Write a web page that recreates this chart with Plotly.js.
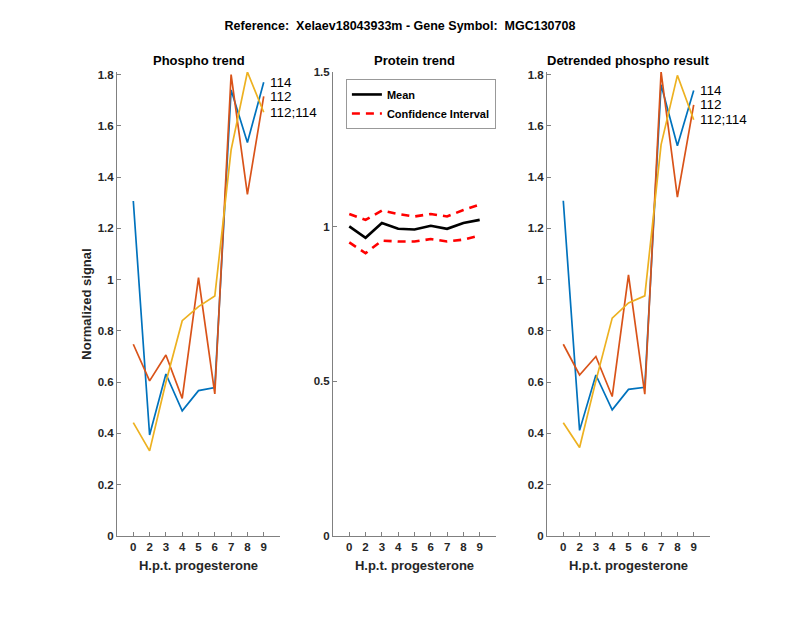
<!DOCTYPE html>
<html>
<head>
<meta charset="utf-8">
<script src="https://cdn.plot.ly/plotly-3.0.1.min.js"></script>
<style>html,body{margin:0;padding:0;background:#fff;}#chart{width:800px;height:618px;}</style>
</head>
<body>
<div id="chart"></div>
<script>
// ---- data ----
var tickLabels = ['0','2','3','4','5','6','7','8','9'];
var xIdx = [1,2,3,4,5,6,7,8,9];
var seriesNames = ['114','112','112;114'];

var phospho114 = [1.307,0.394,0.632,0.488,0.567,0.579,1.740,1.535,1.770];
var phospho112 = [0.748,0.605,0.706,0.537,1.008,0.554,1.800,1.333,1.715];
var phospho112_114 = [0.442,0.332,0.600,0.840,0.895,0.936,1.506,1.810,1.653];

var proteinMean = [1.001,0.964,1.012,0.993,0.991,1.003,0.993,1.012,1.022];
var proteinUpper = [1.041,1.022,1.052,1.041,1.033,1.041,1.033,1.054,1.071];
var proteinLower = [0.949,0.914,0.955,0.952,0.952,0.960,0.952,0.958,0.971];

var detr114 = [1.308,0.412,0.628,0.492,0.572,0.580,1.760,1.522,1.738];
var detr112 = [0.748,0.628,0.700,0.544,1.019,0.553,1.810,1.322,1.682];
var detr112_114 = [0.442,0.345,0.605,0.850,0.909,0.937,1.527,1.797,1.624];

var colors = ['#0072BD','#D95319','#EDB120'];
var font = 'Liberation Sans, Arial, Helvetica, sans-serif';

function lineTrace(y, color, xa, ya){
  return {x: xIdx, y: y, type:'scatter', mode:'lines', xaxis:xa, yaxis:ya,
    line:{color:color, width:1.7}, showlegend:false, hoverinfo:'skip'};
}

var traces = [
  lineTrace(phospho114, colors[0], 'x', 'y'),
  lineTrace(phospho112, colors[1], 'x', 'y'),
  lineTrace(phospho112_114, colors[2], 'x', 'y'),
  {x:xIdx, y:proteinMean, type:'scatter', mode:'lines', xaxis:'x2', yaxis:'y2', name:'Mean',
    line:{color:'#000000', width:2.6}},
  {x:xIdx, y:proteinUpper, type:'scatter', mode:'lines', xaxis:'x2', yaxis:'y2', name:'Confidence Interval',
    line:{color:'#FF0000', width:2.6, dash:'8px,6px'}},
  {x:xIdx, y:proteinLower, type:'scatter', mode:'lines', xaxis:'x2', yaxis:'y2', name:'Confidence Interval',
    showlegend:false, line:{color:'#FF0000', width:2.6, dash:'8px,6px'}},
  lineTrace(detr114, colors[0], 'x3', 'y3'),
  lineTrace(detr112, colors[1], 'x3', 'y3'),
  lineTrace(detr112_114, colors[2], 'x3', 'y3')
];

function xAxis(domain, anchor){
  return {domain:domain, anchor:anchor, range:[0,10], tickmode:'array', tickvals:xIdx, ticktext:tickLabels,
    ticks:'inside', ticklen:4, tickcolor:'#808080', showline:true, linecolor:'#808080', linewidth:1,
    showgrid:false, zeroline:false, fixedrange:true,
    tickfont:{family:font, size:11.5, color:'#262626', weight:'bold'},
    title:{text:'<b>H.p.t. progesterone</b>', font:{family:font, size:13, color:'#262626'}, standoff:9}};
}
function yAxis(domain, anchor, range, tickvals, ticktext, title){
  var a = {domain:domain, anchor:anchor, range:range, tickmode:'array', tickvals:tickvals, ticktext:ticktext,
    ticks:'inside', ticklen:4, tickcolor:'#808080', showline:true, linecolor:'#808080', linewidth:1,
    showgrid:false, zeroline:false, fixedrange:true,
    tickfont:{family:font, size:11.5, color:'#262626', weight:'bold'}};
  if (title) a.title = {text:'<b>'+title+'</b>', font:{family:font, size:13, color:'#262626'}, standoff:3};
  return a;
}

var d1 = [0, 0.2749], d2 = [0.3642, 0.6391], d3 = [0.7251, 1];
var phTicks = [0,0.2,0.4,0.6,0.8,1,1.2,1.4,1.6,1.8];
var phText = ['0','0.2','0.4','0.6','0.8','1','1.2','1.4','1.6','1.8'];

function endLabels(xa, ya, vals){
  return vals.map(function(s, i){
    return {xref:xa, yref:ya, x:9.25, y:s[s.length-1], text:seriesNames[i], showarrow:false,
      xanchor:'left', yanchor:'middle', font:{family:font, size:13.5, color:'#000'}};
  });
}

var annotations = [
  {xref:'paper', yref:'paper', x:0.1375, xanchor:'center', y:1.0, yanchor:'bottom', yshift:2, showarrow:false,
    text:'<b>Phospho trend</b>', font:{family:font, size:13, color:'#000'}},
  {xref:'paper', yref:'paper', x:0.5017, xanchor:'center', y:1.0, yanchor:'bottom', yshift:2, showarrow:false,
    text:'<b>Protein trend</b>', font:{family:font, size:13, color:'#000'}},
  {xref:'paper', yref:'paper', x:0.8625, xanchor:'center', y:1.0, yanchor:'bottom', yshift:2, showarrow:false,
    text:'<b>Detrended phospho result</b>', font:{family:font, size:13, color:'#000'}}
].concat(endLabels('x','y',[phospho114,phospho112,phospho112_114]))
 .concat(endLabels('x3','y3',[detr114,detr112,detr112_114]));

var layout = {
  width:800, height:618,
  margin:{l:117, r:90, t:72, b:82},
  paper_bgcolor:'#fff', plot_bgcolor:'#fff',
  title:{text:'<b>Reference:  Xelaev18043933m - Gene Symbol:  MGC130708</b>', x:0.5, xanchor:'center',
    y:0.958, yanchor:'middle', font:{family:font, size:12.5, color:'#000'}},
  xaxis: xAxis(d1, 'y'),
  yaxis: yAxis([0,1], 'x', [0,1.81], phTicks, phText, 'Normalized signal'),
  xaxis2: xAxis(d2, 'y2'),
  yaxis2: yAxis([0,1], 'x2', [0,1.5], [0,0.5,1,1.5], ['0','0.5','1','1.5'], null),
  xaxis3: xAxis(d3, 'y3'),
  yaxis3: yAxis([0,1], 'x3', [0,1.81], phTicks, phText, null),
  showlegend:true,
  legend:{x:0.386, y:0.985, xanchor:'left', yanchor:'top', bgcolor:'#fff', bordercolor:'#999', borderwidth:1,
    font:{family:font, size:11, color:'#000', weight:'bold'}, tracegroupgap:0, itemwidth:30},
  annotations: annotations
};

Plotly.newPlot('chart', traces, layout, {staticPlot:true, displayModeBar:false});
</script>
</body>
</html>
